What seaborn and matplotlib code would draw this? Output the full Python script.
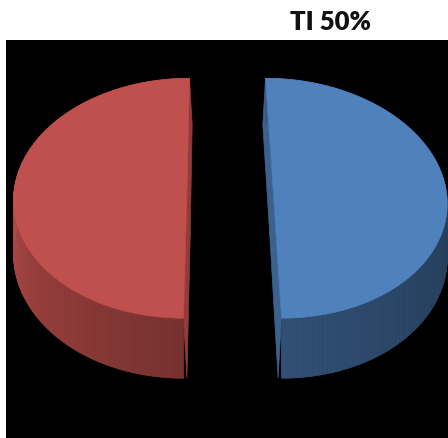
import numpy as np
import matplotlib
matplotlib.use("Agg")
import matplotlib.pyplot as plt
from matplotlib.patches import Polygon
from matplotlib.colors import to_rgb
import seaborn as sns

# Chart data
slice_names = ["TI", "Other"]
shares = [50, 50]
slice_colors = ["#4F81BD", "#C0504D"]

sns.set_theme(style="white")
plt.rcParams["font.family"] = ["Lato", "DejaVu Sans"]
palette = sns.color_palette(slice_colors)

fig = plt.figure(figsize=(4.48, 4.38), dpi=100)
fig.patch.set_facecolor("white")

# Black plot area, data units in screen pixels
ax = fig.add_axes([6 / 448, 0, 442 / 448, 398 / 438])
ax.set_facecolor("black")
ax.set_xlim(6, 448)
ax.set_ylim(438, 40)
ax.set_xticks([])
ax.set_yticks([])
for sp in ax.spines.values():
    sp.set_visible(False)

# 3-D pie projection settings
CX, SHEAR = 230.0, 2.5
CY = 183.0
RX, RY = 171.8, 118.0
PERSP = 0.127
THICK = 52.4
EXPLODE = 0.249
CUT_SHRINK = 0.93


def project(X, Z, h=0.0, shrink=1.0):
    X = np.asarray(X, dtype=float)
    Z = np.asarray(Z, dtype=float)
    f = 1.0 / (1.0 + PERSP * Z)
    cx = CX - SHEAR * Z
    sx = cx + RX * X * f * shrink
    sy = CY - RY * Z * f + THICK * h * f
    return sx, sy


def side_shade(deg):
    a = np.mod(deg, 360.0)
    return np.interp(a, [0, 90, 180, 270, 360], [0.45, 0.70, 0.90, 0.62, 0.45])


total = float(sum(shares))
start = 90.0
for share, col in zip(shares, palette):
    base = np.array(to_rgb(col))
    sweep = 360.0 * share / total
    t1, t2 = start, start - sweep
    start = t2
    mid = np.radians((t1 + t2) / 2)
    ox, oz = EXPLODE * np.cos(mid), EXPLODE * np.sin(mid)

    th = np.radians(np.linspace(t1, t2, 240))
    X = ox + np.cos(th)
    Z = oz + np.sin(th)

    # cut faces (the two radii of the wedge)
    for t in (t1, t2):
        ex, ez = ox + np.cos(np.radians(t)), oz + np.sin(np.radians(t))
        p0 = project(ox, oz, 0)
        p1 = project(ex, ez, 0)
        p2 = project(ex, ez, 1, CUT_SHRINK)
        p3 = project(ox, oz, 1, CUT_SHRINK)
        pts = np.array([p0, p1, p2, p3])
        ax.add_patch(Polygon(pts, closed=True, facecolor=base * 0.75,
                             edgecolor=base * 0.75, lw=0.5))

    # outer wall, shaded by angle
    tx, ty = project(X, Z, 0)
    bx, by = project(X, Z, 1)
    degs = np.degrees(th)
    for i in range(len(th) - 1):
        shade = side_shade((degs[i] + degs[i + 1]) / 2)
        c = np.clip(base * shade, 0, 1)
        quad = np.array([[tx[i], ty[i]], [tx[i + 1], ty[i + 1]],
                         [bx[i + 1], by[i + 1]], [bx[i], by[i]]])
        ax.add_patch(Polygon(quad, closed=True, facecolor=c, edgecolor=c, lw=0.6))

    # top face
    cx0, cy0 = project(ox, oz, 0)
    top = np.vstack([[cx0, cy0], np.column_stack([tx, ty])])
    ax.add_patch(Polygon(top, closed=True, facecolor=base, edgecolor=base, lw=0.5))

fig.text(330 / 448, 1 - 30.5 / 438, f"{slice_names[0]} {shares[0]}%",
         ha="center", va="baseline", fontsize=18.5, fontweight="heavy",
         color="#111111")

fig.savefig("out.png", dpi=100, facecolor="white")
